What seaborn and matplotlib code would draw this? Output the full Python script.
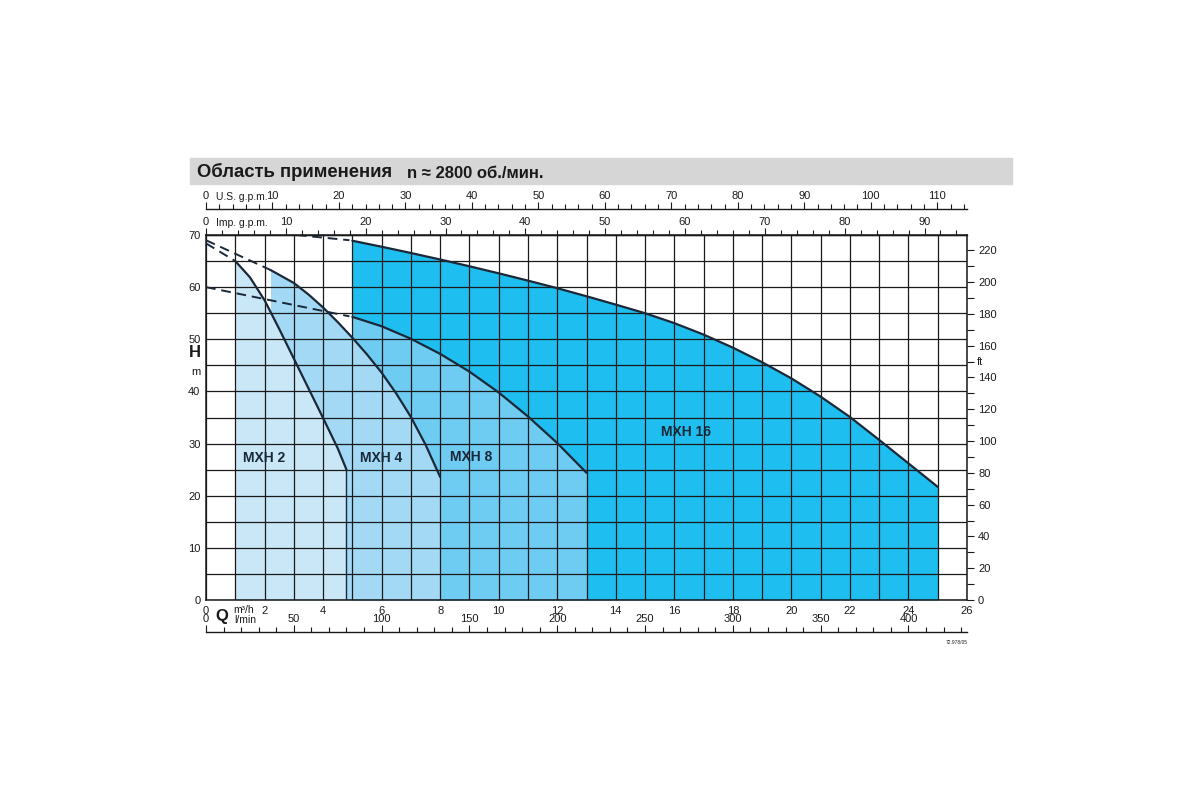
import numpy as np
import matplotlib
matplotlib.use('Agg')
import matplotlib.pyplot as plt
from matplotlib.patches import Rectangle
import seaborn as sns

sns.set_theme(style='white')
plt.rcParams['font.family'] = ['Liberation Sans', 'DejaVu Sans']

# pump curves, Q in m3/h, H in m
mxh2_q = [1.0, 1.5, 2.0, 2.5, 3.0, 3.5, 4.0, 4.5, 4.8]
mxh2_h = [65.0, 61.9, 57.5, 52.0, 46.3, 40.6, 34.9, 29.1, 25.0]

mxh4_q = [2.2, 3.0, 3.5, 4.0, 4.5, 5.0, 5.5, 6.0, 6.5, 7.0, 7.5, 8.0]
mxh4_h = [63.3, 60.8, 58.6, 56.1, 53.3, 50.3, 47.1, 43.6, 39.6, 35.1, 29.8, 23.6]

mxh8_q = [5.0, 6.0, 7.0, 8.0, 9.0, 10.0, 11.0, 12.0, 13.0]
mxh8_h = [54.3, 52.5, 50.1, 47.2, 43.8, 39.8, 35.2, 30.1, 24.4]

mxh16_q = [5, 6, 7, 8, 9, 10, 11, 12, 13, 14, 15, 16, 17, 18, 19, 20, 21, 22, 23, 24, 25]
mxh16_h = [68.9, 67.75, 66.55, 65.3, 64.0, 62.65, 61.25, 59.8, 58.25, 56.65, 55.0, 53.1,
           50.9, 48.4, 45.6, 42.5, 39.0, 35.1, 30.7, 26.2, 21.7]

# dashed extensions
dash2_q, dash2_h = [0.0, 1.0], [68.4, 65.0]
dash4_q, dash4_h = [0.0, 2.2], [69.0, 63.3]
dash8_q, dash8_h = [0.0, 4.9], [60.0, 54.4]
dash16_q, dash16_h = [3.1, 4.9], [70.0, 69.0]

models = ['MXH 16', 'MXH 8', 'MXH 4', 'MXH 2']
colors = ['#1fbef0', '#6ecbf2', '#a3d9f4', '#c9e7f7']

# axis scales
q_ticks = list(range(0, 27, 2))
h_ticks = list(range(0, 71, 10))
ft_ticks = list(range(0, 221, 20))
usgpm_ticks = list(range(0, 111, 10))
impgpm_ticks = list(range(0, 91, 10))
lmin_ticks = list(range(0, 401, 50))

Q_MAX, H_MAX = 26, 70
M_TO_FT = 3.28084
TO_USGPM = 4.4029
TO_IMPGPM = 3.6662
TO_LMIN = 16.6667

line_col = '#1b2838'
W, Hpx = 1200, 800

fig = plt.figure(figsize=(12, 8), dpi=100)

# title bar
fig.patches.append(Rectangle((190 / W, 1 - 184 / Hpx), 822 / W, 26 / Hpx,
                             transform=fig.transFigure, color='#d6d6d6', zorder=0))
fig.text(197 / W, 1 - 172 / Hpx, 'Область применения', fontsize=13.3, fontweight='bold',
         va='center', ha='left', color='#1a1a1a')
fig.text(407 / W, 1 - 173 / Hpx, 'n ≈ 2800 об./мин.', fontsize=12, fontweight='bold',
         va='center', ha='left', color='#1a1a1a')

ax = fig.add_axes([206 / W, 1 - 600 / Hpx, 761 / W, 365 / Hpx])
ax.set_xlim(0, Q_MAX)
ax.set_ylim(0, H_MAX)

curves = [(mxh16_q, mxh16_h), (mxh8_q, mxh8_h), (mxh4_q, mxh4_h), (mxh2_q, mxh2_h)]
for (q, h), c in zip(curves, colors):
    ax.fill_between(q, h, 0, color=c, lw=0, zorder=1)
    sns.lineplot(x=q, y=h, ax=ax, color=line_col, lw=1.6, zorder=4)

ax.vlines(mxh2_q[-1], 0, mxh2_h[-1], color=line_col, lw=1.0, zorder=4)

for q, h in [(dash2_q, dash2_h), (dash4_q, dash4_h), (dash8_q, dash8_h), (dash16_q, dash16_h)]:
    sns.lineplot(x=q, y=h, ax=ax, color=line_col, lw=1.4, linestyle=(0, (5, 3)), zorder=4)

ax.set_xticks(q_ticks)
ax.set_xticks(np.arange(1, Q_MAX, 2), minor=True)
ax.set_yticks(h_ticks)
ax.set_yticks(np.arange(5, H_MAX, 10), minor=True)
ax.set_axisbelow(False)
ax.grid(which='both', color='#1a1a1a', lw=0.9)
ax.tick_params(axis='both', which='both', length=0, labelsize=8, colors='#1a1a1a')
ax.tick_params(axis='x', pad=4.5)
ax.tick_params(axis='y', pad=4)
ax.set_xlabel('')
ax.set_ylabel('')
for s in ax.spines.values():
    s.set_color('#1a1a1a')
    s.set_linewidth(1.1)

ax.text(2.0, 27.2, 'MXH 2', ha='center', va='center', fontsize=10, fontweight='bold', color=line_col, zorder=5)
ax.text(6.0, 27.2, 'MXH 4', ha='center', va='center', fontsize=10, fontweight='bold', color=line_col, zorder=5)
ax.text(9.05, 27.4, 'MXH 8', ha='center', va='center', fontsize=10, fontweight='bold', color=line_col, zorder=5)
ax.text(16.4, 32.2, 'MXH 16', ha='center', va='center', fontsize=10, fontweight='bold', color=line_col, zorder=5)

# right axis in feet
ax_r = ax.twinx()
ax_r.set_ylim(0, H_MAX * M_TO_FT)
ax_r.set_yticks(ft_ticks)
ax_r.set_yticks(np.arange(10, 230, 20), minor=True)
ax_r.grid(False)
ax_r.tick_params(axis='y', which='both', direction='out', length=5, width=0.8,
                 pad=3, labelsize=8, colors='#1a1a1a', right=True)
for s in ax_r.spines.values():
    s.set_visible(False)


def flow_axis(y_px, vmax, major, minor_step, label, label_x_px):
    a = fig.add_axes([206 / W, 1 - y_px / Hpx, 761 / W, 0.0005])
    a.set_facecolor('none')
    a.set_xlim(0, vmax)
    a.set_yticks([])
    for side in ['left', 'right', 'bottom']:
        a.spines[side].set_visible(False)
    a.spines['top'].set_color('#1a1a1a')
    a.spines['top'].set_linewidth(1.0)
    a.xaxis.tick_top()
    a.set_xticks(major)
    a.set_xticks(np.arange(0, vmax, minor_step), minor=True)
    a.tick_params(axis='x', which='major', direction='out', length=5, width=0.8,
                  pad=0.5, labelsize=8, colors='#1a1a1a')
    a.tick_params(axis='x', which='minor', direction='out', length=3.5, width=0.8,
                  colors='#1a1a1a')
    a.grid(False)
    fig.text(label_x_px / W, 1 - (y_px - 12) / Hpx, label, fontsize=7.5,
             ha='left', va='center', color='#1a1a1a')
    return a


flow_axis(209, Q_MAX * TO_USGPM, usgpm_ticks, 2, 'U.S. g.p.m.', 216)
flow_axis(235, Q_MAX * TO_IMPGPM, impgpm_ticks, 2, 'Imp. g.p.m.', 216)
flow_axis(632, Q_MAX * TO_LMIN, lmin_ticks, 10, 'l/min', 234)

fig.text(233 / W, 1 - 610 / Hpx, 'm³/h', fontsize=7.5, ha='left', va='center', color='#1a1a1a')
fig.text(222 / W, 1 - 616 / Hpx, 'Q', fontsize=12, fontweight='bold', ha='center', va='center', color='#1a1a1a')
fig.text(195 / W, 1 - 353 / Hpx, 'H', fontsize=12, fontweight='bold', ha='center', va='center', color='#1a1a1a')
fig.text(196 / W, 1 - 372 / Hpx, 'm', fontsize=8, ha='center', va='center', color='#1a1a1a')
fig.text(980 / W, 1 - 362 / Hpx, 'ft', fontsize=8, ha='center', va='center', color='#1a1a1a')
fig.text(968 / W, 1 - 642 / Hpx, '72.978/05', fontsize=3.5, ha='right', va='center', color='#1a1a1a')

plt.savefig('out.png', dpi=100)
